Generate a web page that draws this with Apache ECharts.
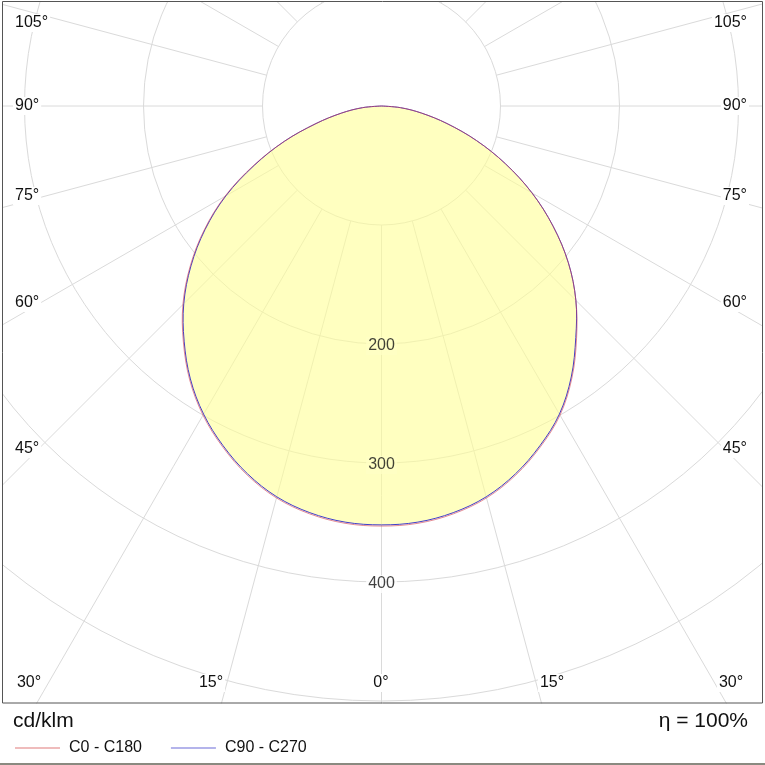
<!DOCTYPE html>
<html>
<head>
<meta charset="utf-8">
<script src="https://cdn.jsdelivr.net/npm/echarts@6/dist/echarts.min.js"></script>
<style>
html,body{margin:0;padding:0;background:#fff;}
#chart{width:765px;height:765px;}
</style>
</head>
<body>
<div id="chart"></div>
<script>
// ---- data ----
const gammaDeg = [0,5,10,15,20,25,30,35,40,45,50,55,60,65,70,75,80,85,90];
const c0 =   [353,352,348,341,330,316,300,279,255,231,205,176,146,115,85,57,34,16,0];
const c180 = [353,352,348,341,330,316,300,281,259,236,210,182,152,119,87,57,34,16,0];
const c90 =  [352,351,347,340,329,315,299,278,254,231,205,176,146,115,85,57,34,16,0];
const c270 = [352,351,347,340,329,315,299,280,258,235,209,181,151,118,87,57,34,16,0];
const seriesNames = ['C0 - C180','C90 - C270'];
const radiusTicks = [200,300,400];
const leftAngleLabels = ['105°','90°','75°','60°','45°'];
const rightAngleLabels = ['105°','90°','75°','60°','45°'];
const bottomAngleLabels = ['30°','15°','0°','15°','30°'];
const unitText = 'cd/klm';
const etaText = 'η = 100%';

// ---- layout / style ----
const CX = 381.5, CY = 106, PX_PER_100 = 119;
const RMAX = 600;
const sideY = [23,106,196,303,449];
const bottomX = [29,211,381,552,731];
const FONT = '"Liberation Sans", Arial, sans-serif';
const gridColor = '#dadada';
const fillColor = 'rgba(255,255,150,0.6)';
const fillSolid = '#ffffc4';
const redColor = '#d04050';
const blueColor = '#4040c8';

function plane(right, left) {
  const pts = [];
  for (let i = gammaDeg.length - 1; i >= 0; i--) pts.push([left[i], 360 - gammaDeg[i]]);
  for (let i = 1; i < gammaDeg.length; i++) pts.push([right[i], gammaDeg[i]]);
  return pts;
}

function makeRender(pts, withFill, color, opacity) {
  return function (params, api) {
    const px = pts.map(p => api.coord(p));
    const children = [];
    if (withFill) {
      children.push({type:'polygon', shape:{points:px.slice(0, px.length - 1), smooth:0.35},
        style:{fill:fillColor, stroke:null}});
    }
    children.push({type:'polyline', shape:{points:px, smooth:0.35},
      style:{fill:null, stroke:color, lineWidth:1, opacity:opacity}});
    return {type:'group', children};
  };
}

const chart = echarts.init(document.getElementById('chart'), null, {renderer:'canvas'});

const graphics = [];
graphics.push({type:'rect', z:100, shape:{x:0,y:703.5,width:765,height:62}, style:{fill:'#fff'}});
graphics.push({type:'rect', z:100, shape:{x:762.5,y:0,width:3,height:765}, style:{fill:'#fff'}});
graphics.push({type:'rect', z:100, shape:{x:0,y:0,width:2,height:765}, style:{fill:'#fff'}});
graphics.push({type:'rect', z:100, shape:{x:0,y:0,width:765,height:1}, style:{fill:'#fff'}});
graphics.push({type:'rect', z:101, shape:{x:2.5,y:1.5,width:760,height:701.5}, style:{fill:null, stroke:'#555', lineWidth:1}});
graphics.push({type:'rect', z:101, shape:{x:0,y:763,width:765,height:2}, style:{fill:'#8a8a80'}});
leftAngleLabels.forEach((t,i)=>graphics.push({type:'text', z:102, x:13, y:sideY[i],
  style:{text:t, font:'16px '+FONT, fill:'#111', align:'left', verticalAlign:'middle', backgroundColor:'#fff', padding:[1,2]}}));
rightAngleLabels.forEach((t,i)=>graphics.push({type:'text', z:102, x:749, y:sideY[i],
  style:{text:t, font:'16px '+FONT, fill:'#111', align:'right', verticalAlign:'middle', backgroundColor:'#fff', padding:[1,2]}}));
bottomAngleLabels.forEach((t,i)=>graphics.push({type:'text', z:102, x:bottomX[i], y:683,
  style:{text:t, font:'16px '+FONT, fill:'#111', align:'center', verticalAlign:'middle', backgroundColor:'#fff', padding:[1,2]}}));
graphics.push({type:'text', z:102, x:13, y:721, style:{text:unitText, font:'21px '+FONT, fill:'#111', align:'left', verticalAlign:'middle'}});
graphics.push({type:'text', z:102, x:748, y:721, style:{text:etaText, font:'21px '+FONT, fill:'#111', align:'right', verticalAlign:'middle'}});

const option = {
  animation:false,
  backgroundColor:'#fff',
  polar:[
    {center:[CX,CY], radius: RMAX/100*PX_PER_100},
    {center:[CX,CY], radius:[PX_PER_100, RMAX/100*PX_PER_100]}
  ],
  angleAxis:[
    {polarIndex:0, type:'value', min:0, max:360, interval:15, startAngle:-90, clockwise:false, show:false},
    {polarIndex:1, type:'value', min:0, max:360, interval:15, startAngle:-90, clockwise:false,
     axisLine:{show:false}, axisTick:{show:false}, axisLabel:{show:false},
     splitLine:{show:true, lineStyle:{color:gridColor, width:1}}}
  ],
  radiusAxis:[
    {polarIndex:0, type:'value', min:0, max:RMAX, interval:100,
     axisLine:{show:false}, axisTick:{show:false}, axisLabel:{show:false},
     splitLine:{show:true, lineStyle:{color:gridColor, width:1}}},
    {polarIndex:1, type:'value', min:0, max:RMAX, show:false}
  ],
  legend:{
    left:10, top:735, z:200, icon:'rect', itemWidth:45, itemHeight:1, itemGap:29,
    textStyle:{fontSize:16, fontFamily:FONT, color:'#111', padding:[0,0,0,4]},
    data:seriesNames
  },
  series:[
    {name:seriesNames[1], type:'custom', coordinateSystem:'polar', polarIndex:0, z:3,
     data:[[0,0]], itemStyle:{color:'#6a6ad8'},
     renderItem: makeRender(plane(c90,c270), true, blueColor, 1)},
    {name:seriesNames[0], type:'custom', coordinateSystem:'polar', polarIndex:0, z:4,
     data:[[0,0]], itemStyle:{color:'#e07a7a'},
     renderItem: makeRender(plane(c0,c180), false, redColor, 0.6)},
    {type:'scatter', coordinateSystem:'polar', polarIndex:0, z:6, symbolSize:0, silent:true,
     data: radiusTicks.map(r=>({value:[r,0],
       label:{backgroundColor: r < c0[0] ? fillSolid : '#fff'}})),
     label:{show:true, position:'inside', offset:[0,2], formatter:p=>String(p.value[0]),
       fontSize:16, fontFamily:FONT, color:'#111', padding:[1,2]}}
  ],
  graphic: graphics
};
chart.setOption(option);
</script>
</body>
</html>
